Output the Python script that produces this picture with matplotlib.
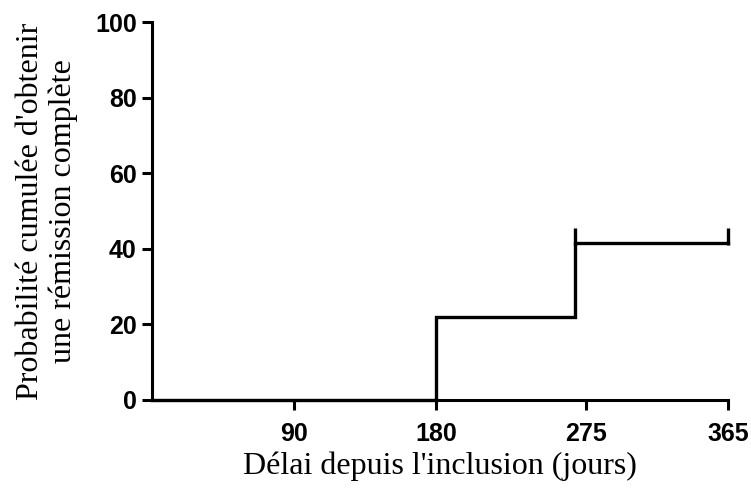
import matplotlib.pyplot as plt

# Kaplan-Meier style cumulative incidence
days = [0, 180, 268, 365]
prob = [0, 22, 41.5, 41.5]
censor_days = [268, 365]
censor_prob = [41.5, 41.5]

xticks = [90, 180, 275, 365]
yticks = [0, 20, 40, 60, 80, 100]

fig = plt.figure(figsize=(7.51, 4.9), dpi=100)
ax = fig.add_axes([0.2024, 0.1837, 0.767, 0.7713])

ax.plot(days, prob, drawstyle='steps-post', color='black', lw=2.4,
        solid_joinstyle='miter', clip_on=False)
# censor marks
ax.vlines(censor_days, [p - 0.5 for p in censor_prob], [p + 4 for p in censor_prob],
          color='black', lw=2.4, clip_on=False)

ax.set_xlim(0, 365)
ax.set_ylim(0, 100)
ax.set_xticks(xticks)
ax.set_yticks(yticks)

for s in ['top', 'right']:
    ax.spines[s].set_visible(False)
for s in ['left', 'bottom']:
    ax.spines[s].set_linewidth(2.2)

ax.tick_params(direction='out', length=7, width=2.2)
ax.tick_params(axis='x', pad=9)
ax.tick_params(axis='y', pad=4)
for lab in ax.get_xticklabels() + ax.get_yticklabels():
    lab.set_fontfamily('Liberation Sans')
    lab.set_fontweight('bold')
    lab.set_fontsize(18)

ax.set_xlabel("Délai depuis l'inclusion (jours)", fontfamily='Liberation Serif',
              fontsize=23, labelpad=4)
ax.set_ylabel("Probabilité cumulée d'obtenir\nune rémission complète",
              fontfamily='Liberation Serif', fontsize=23, labelpad=12,
              linespacing=1.15)

fig.savefig('out.png', dpi=100)
